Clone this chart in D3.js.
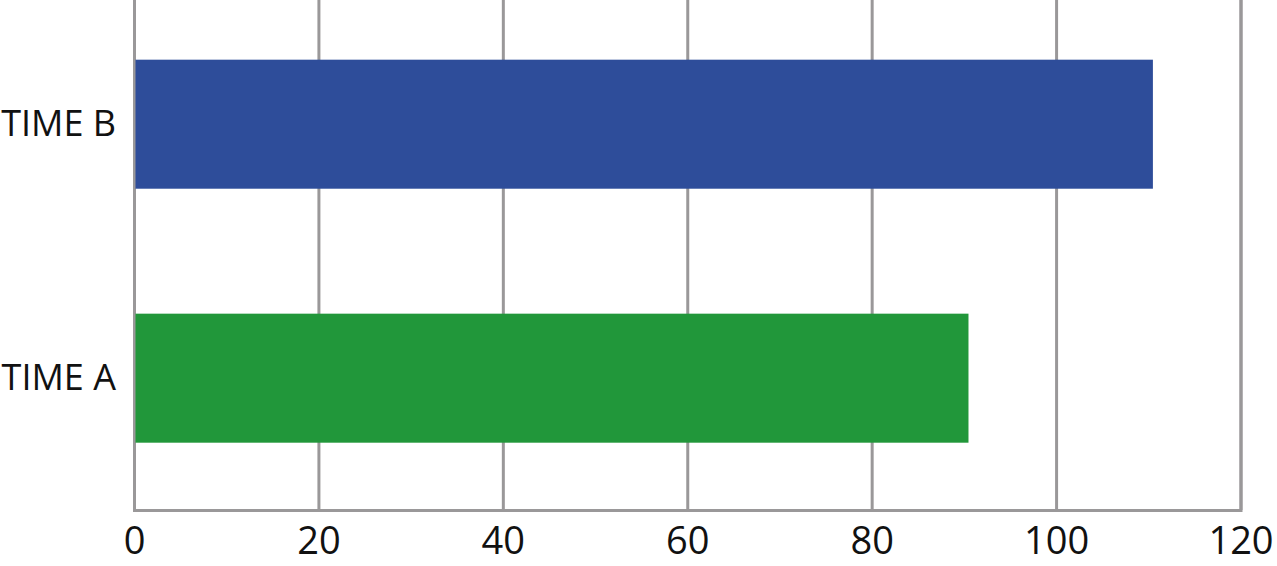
<!DOCTYPE html>
<html>
<head>
<meta charset="utf-8">
<script src="https://cdn.jsdelivr.net/npm/d3@7"></script>
<style>
  body { margin: 0; background: #fff; }
  svg { display: block; }
</style>
</head>
<body>
<div id="chart"></div>
<script>
// chart data
var categories = ["TIME B", "TIME A"];
var values = [110.5, 90.5];
var bar_colors = ["#2e4d9a", "#21973a"];
var x_ticks = [0, 20, 40, 60, 80, 100, 120];

var width = 1277, height = 566;
var left = 134, right = 1240.5, top_y = 0, axis_y = 510;
var grid_color = "#9a9899";
var label_font = "'Open Sans', 'DejaVu Sans', sans-serif";

var svg = d3.select("#chart").append("svg")
  .attr("width", width)
  .attr("height", height);

var x = d3.scaleLinear()
  .domain([0, 120])
  .range([left, right]);

var y = d3.scaleBand()
  .domain(categories)
  .range([top_y, axis_y])
  .paddingInner(0.492)
  .paddingOuter(0.25)
  .align(0.47);

// vertical grid lines + bottom tick labels
var x_axis = svg.append("g")
  .attr("transform", "translate(0," + axis_y + ")")
  .call(d3.axisBottom(x).tickValues(x_ticks).tickSize(-(axis_y - top_y)).tickPadding(17));

x_axis.select(".domain")
  .attr("stroke", grid_color)
  .attr("stroke-width", 3);
x_axis.selectAll(".tick line")
  .attr("stroke", grid_color)
  .attr("stroke-width", 3);
x_axis.selectAll(".tick text")
  .attr("fill", "#111")
  .style("font-family", label_font)
  .style("font-size", "38px");

// bars
svg.append("g").selectAll("rect")
  .data(categories)
  .join("rect")
  .attr("x", x(0) + 1.5)
  .attr("y", d => y(d))
  .attr("width", (d, i) => x(values[i]) - x(0) - 1.5)
  .attr("height", y.bandwidth())
  .attr("fill", (d, i) => bar_colors[i]);

// category labels
var y_axis = svg.append("g")
  .attr("transform", "translate(" + left + ",0)")
  .call(d3.axisLeft(y).tickSize(0).tickPadding(18));

y_axis.select(".domain").remove();
y_axis.selectAll(".tick text")
  .attr("fill", "#111")
  .style("font-family", label_font)
  .style("font-size", "36px");
</script>
</body>
</html>
